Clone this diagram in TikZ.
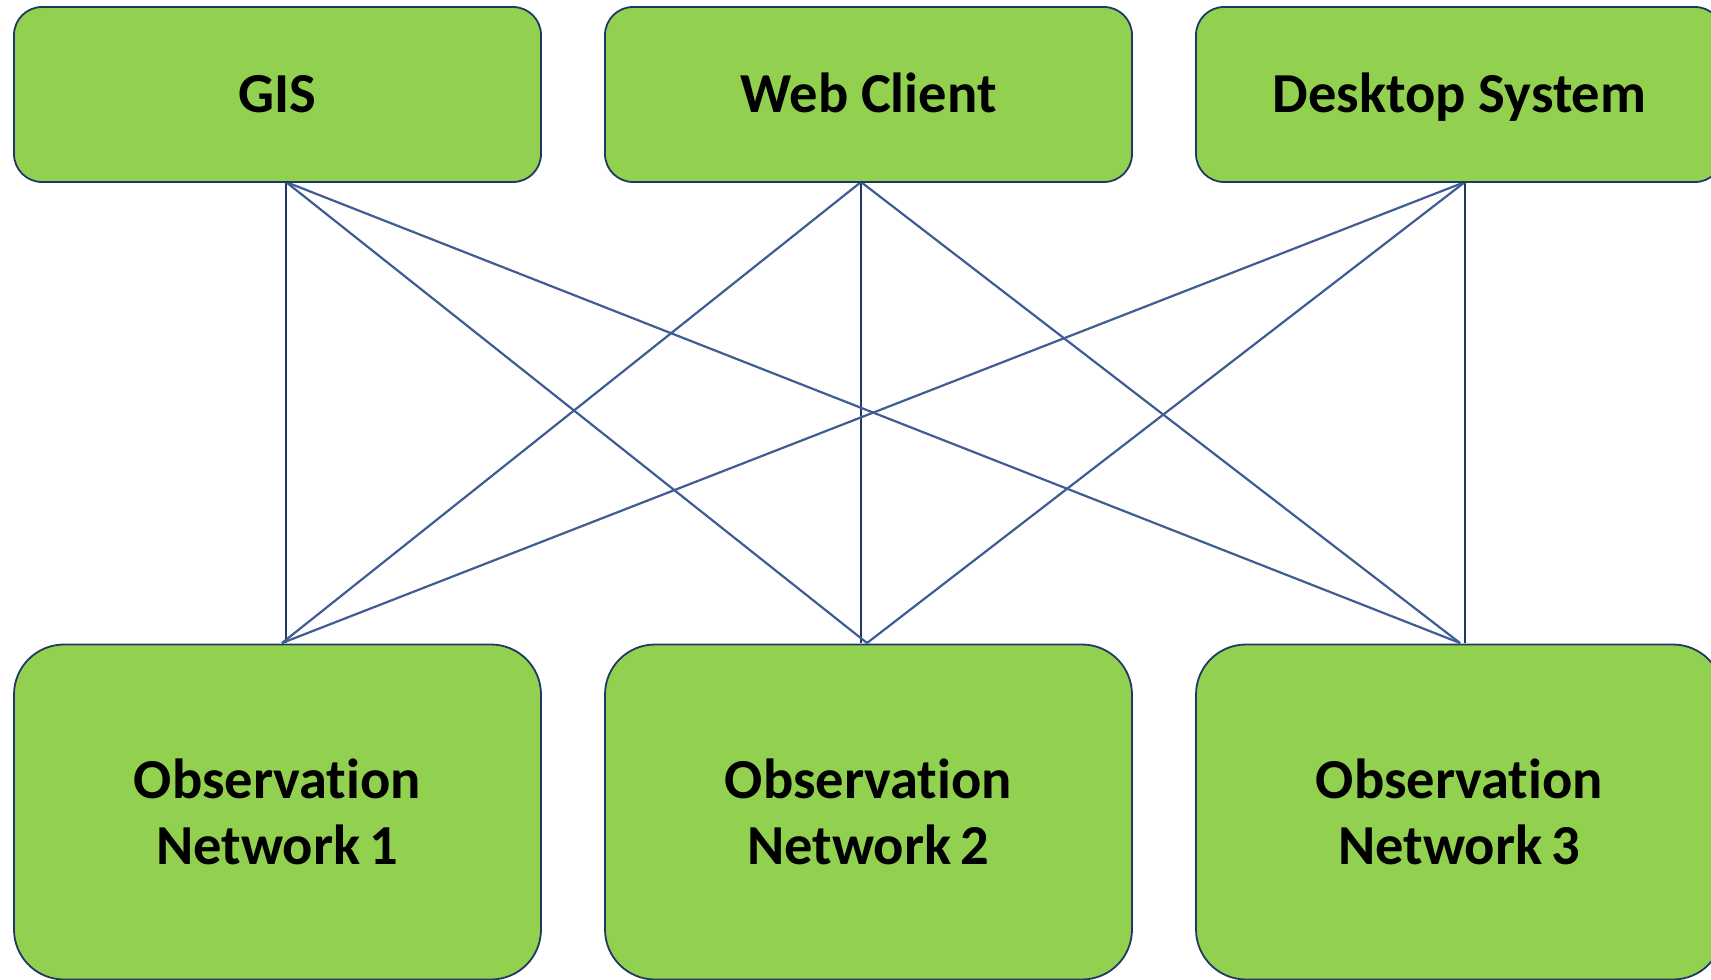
\documentclass[tikz,border=0pt]{standalone}
\usepackage{fontspec}
\setmainfont{Carlito}[Ligatures={NoCommon}]
\definecolor{boxgreen}{HTML}{92D050}
\definecolor{navy}{HTML}{1F3864}
\definecolor{diag}{HTML}{3F5C94}
\begin{document}
\begin{tikzpicture}[x=1pt,y=-1pt,
  topbox/.style={draw=navy, line width=1.8pt, fill=boxgreen, rounded corners=28pt,
    minimum width=527pt, minimum height=175pt, inner sep=0pt, outer sep=0pt,
    font=\fontsize{56.5}{66}\selectfont\bfseries, align=center},
  onel/.style={text height=35pt, text depth=0pt},
  botbox/.style={topbox, rounded corners=50pt, minimum height=335pt},
  vline/.style={draw=navy, line width=1.9pt},
  dline/.style={draw=diag, line width=2.2pt}]
\useasboundingbox (0,0) rectangle (1711,980);
\clip (0,0) rectangle (1711,980);
% anchor coordinates
\coordinate (t1) at (286,182);
\coordinate (t2) at (861,182);
\coordinate (t3) at (1465,182);
\coordinate (b1) at (286,643);
\coordinate (b2) at (861,643);
\coordinate (b3) at (1465,643);
\coordinate (b1d) at (282,643);
\coordinate (b2d) at (867,643);
\coordinate (b3d) at (1460,643);
% connectors
\draw[vline] (t1) -- (b1);
\draw[vline] (t2) -- (b2);
\draw[vline] (t3) -- (b3);
\draw[dline] (t1) -- (b2d);
\draw[dline] (t1) -- (b3d);
\draw[dline] (t2) -- (b1d);
\draw[dline] (t2) -- (b3d);
\draw[dline] (t3) -- (b1d);
\draw[dline] (t3) -- (b2d);
% boxes
\node[topbox, onel] (gis) at (277.5,94.5) {GIS};
\node[topbox, onel] (web) at (868.5,94.5) {Web Client};
\node[topbox, onel] (desk) at (1459.5,94.5) {Desktop System};
\node[botbox] (n1) at (277.5,812) {Observation\\Network\,1};
\node[botbox] (n2) at (868.5,812) {Observation\\Network\,2};
\node[botbox] (n3) at (1459.5,812) {Observation\\Network\,3};
\end{tikzpicture}
\end{document}
